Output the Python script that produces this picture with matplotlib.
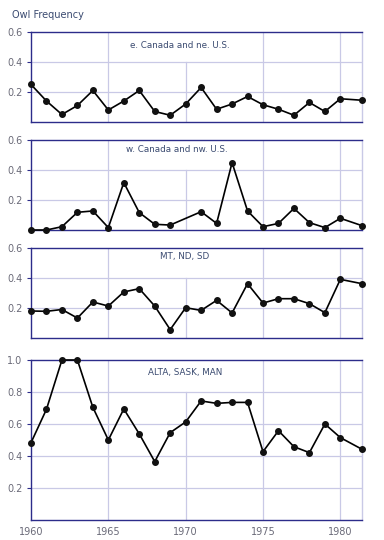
import numpy as np
import matplotlib
matplotlib.use("Agg")
import matplotlib.pyplot as plt

# --- data ---
years = [1960, 1961, 1962, 1963, 1964, 1965, 1966, 1967, 1968, 1969, 1970,
         1971, 1972, 1973, 1974, 1975, 1976, 1977, 1978, 1979, 1980, 1981.4]

east = [0.25, 0.14, 0.05, 0.11, 0.21, 0.08, 0.14, 0.21, 0.07, 0.045, 0.12,
        0.23, 0.085, 0.12, 0.17, 0.115, 0.085, 0.045, 0.13, 0.07, 0.155, 0.145]

# no point for 1970 in this series
west_years = [1960, 1961, 1962, 1963, 1964, 1965, 1966, 1967, 1968, 1969,
              1971, 1972, 1973, 1974, 1975, 1976, 1977, 1978, 1979, 1980, 1981.4]
west = [0.0, 0.0, 0.022, 0.118, 0.127, 0.016, 0.316, 0.116, 0.038, 0.033,
        0.122, 0.044, 0.449, 0.127, 0.022, 0.044, 0.144, 0.049, 0.016, 0.078, 0.029]

mtndsd = [0.18, 0.178, 0.19, 0.133, 0.24, 0.213, 0.307, 0.329, 0.213, 0.056, 0.202,
          0.184, 0.251, 0.167, 0.362, 0.233, 0.262, 0.262, 0.229, 0.169, 0.391, 0.362]

prairie = [0.483, 0.692, 1.0, 1.0, 0.704, 0.5, 0.694, 0.538, 0.365, 0.546, 0.613,
           0.744, 0.729, 0.735, 0.735, 0.427, 0.558, 0.458, 0.421, 0.6, 0.515, 0.442]

panel_titles = ["e. Canada and ne. U.S.", "w. Canada and nw. U.S.",
                "MT, ND, SD", "ALTA, SASK, MAN"]
xticks = [1960, 1965, 1970, 1975, 1980]

# --- styling ---
FRAME = "#2c2c8a"
GRID = "#c9c9e6"
TXT = "#3a4a70"
TICK = "#6a6a78"

W, H = 384, 540
fig = plt.figure(figsize=(W / 100, H / 100), dpi=100)

# panel boxes in pixels: (top, bottom), and label placement in axes fractions
boxes = [(32, 122), (140, 230), (248, 338), (360, 520)]
label_pos = [(0.45, 0.855), (0.44, 0.89), (0.465, 0.9), (0.465, 0.925)]
left, right = 31, 362

series = [(years, east, 0.6), (west_years, west, 0.6),
          (years, mtndsd, 0.6), (years, prairie, 1.0)]

for i, ((top, bot), (xs, ys, ymax), title, (lx, ly)) in enumerate(
        zip(boxes, series, panel_titles, label_pos)):
    ax = fig.add_axes([left / W, 1 - bot / H, (right - left) / W, (bot - top) / H])
    ax.set_xlim(1960, 1981.4)
    ax.set_ylim(0, ymax)
    yt = np.round(np.arange(0.2, ymax + 0.01, 0.2), 1)
    ax.set_yticks(yt)
    ax.set_yticklabels([f"{v:.1f}" for v in yt])
    ax.tick_params(axis="y", length=3, width=0.8, color=FRAME, labelsize=7,
                   labelcolor=TICK, pad=3)
    ax.set_xticks(xticks)
    if i == 3:
        ax.set_xticklabels([str(x) for x in xticks])
        ax.tick_params(axis="x", length=0, labelsize=7, labelcolor=TICK, pad=5)
    else:
        ax.set_xticklabels([])
        ax.tick_params(axis="x", length=0)

    # grid: horizontal at ticks, vertical at 5-year marks
    for v in yt[:-1]:
        ax.axhline(v, color=GRID, lw=0.9, zorder=0)
    upper = yt[-2] / ymax  # 1970 line is hidden behind the panel label
    for x in xticks[1:]:
        ax.axvline(x, ymax=upper if x == 1970 else 1, color=GRID, lw=0.9, zorder=0)

    for s in ax.spines.values():
        s.set_color(FRAME)
        s.set_linewidth(1.0)
    ax.spines["right"].set_color(GRID)

    ax.plot(xs, ys, "-", color="black", lw=1.2, marker="o", ms=4,
            mfc="#111111", mec="#111111", clip_on=False, zorder=3)

    ax.text(lx, ly, title, transform=ax.transAxes, ha="center", va="center",
            fontsize=6.3, color=TXT)

fig.text(12 / W, 1 - 15 / H, "Owl Frequency", ha="left", va="center",
         fontsize=7, color=TXT)

fig.savefig("out.png", dpi=100, facecolor="white")
